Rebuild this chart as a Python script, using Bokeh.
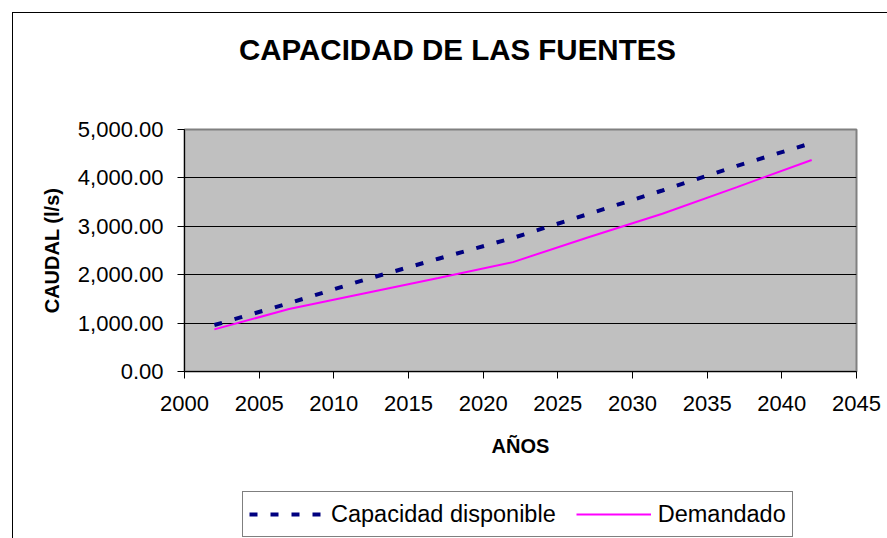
from bokeh.plotting import figure
from bokeh.layouts import column
from bokeh.models import (Legend, LegendItem, Label, InlineStyleSheet,
                          FixedTicker, NumeralTickFormatter, Range1d)
from bokeh.embed import file_html
from bokeh.resources import INLINE

# ---- data ----
years = [2002, 2007, 2012, 2017, 2022, 2027, 2032, 2037, 2042]
capacidad = [960, 1410, 1890, 2330, 2760, 3250, 3740, 4250, 4720]
demandado = [870, 1290, 1610, 1930, 2260, 2770, 3260, 3810, 4370]
x_ticks = [2000, 2005, 2010, 2015, 2020, 2025, 2030, 2035, 2040, 2045]
y_ticks = [0, 1000, 2000, 3000, 4000, 5000]
series_names = ["Capacidad disponible", "Demandado"]
title_text = "CAPACIDAD DE LAS FUENTES"
x_label = "AÑOS"
y_label = "CAUDAL (l/s)"

FONT = "Liberation Sans"
W = 887
H_TITLE, H_MAIN, H_LEG = 100, 380, 58
BLUE, PINK = "#000080", "#FF00FF"


def blank_fig(h):
    f = figure(width=W, height=h, output_backend="svg", toolbar_location=None,
               x_range=Range1d(0, 1), y_range=Range1d(0, 1),
               x_axis_type=None, y_axis_type=None,
               min_border_left=0, min_border_right=0,
               min_border_top=0, min_border_bottom=0)
    f.outline_line_color = None
    f.background_fill_color = "white"
    f.border_fill_color = "white"
    f.xgrid.grid_line_color = None
    f.ygrid.grid_line_color = None
    return f


# ---- title strip (frames of the column are aligned with the main frame at x=184) ----
t_fig = blank_fig(H_TITLE)
t_fig.add_layout(Label(x=273, y=51, x_units="screen", y_units="screen",
                       text=title_text, text_align="center",
                       text_baseline="alphabetic", text_font=FONT,
                       text_font_size="29.5px", text_font_style="bold",
                       text_color="black"))

# ---- main chart ----
p = figure(width=W, height=H_MAIN, output_backend="svg", toolbar_location=None,
           x_range=Range1d(2000, 2045), y_range=Range1d(0, 5000),
           min_border_left=184, min_border_right=31, min_border_top=29,
           min_border_bottom=109)
p.background_fill_color = "#C0C0C0"
p.border_fill_color = "white"
p.outline_line_color = "#808080"
p.outline_line_width = 2

p.line(years, capacidad, line_color=BLUE, line_width=4, line_dash="8 13")
p.line(years, demandado, line_color=PINK, line_width=2)

p.xaxis.ticker = FixedTicker(ticks=x_ticks)
p.yaxis.ticker = FixedTicker(ticks=y_ticks)
p.yaxis.formatter = NumeralTickFormatter(format="0,0.00")
for ax in (p.xaxis[0], p.yaxis[0]):
    ax.major_label_text_font = FONT
    ax.major_label_text_font_size = "22px"
    ax.major_label_text_color = "black"
    ax.axis_line_color = "black"
    ax.axis_line_width = 1
    ax.major_tick_line_color = "black"
    ax.major_tick_out = 7
    ax.major_tick_in = 0
    ax.minor_tick_line_color = None
    ax.axis_label_text_font = FONT
    ax.axis_label_text_font_size = "20px"
    ax.axis_label_text_font_style = "bold"
    ax.axis_label_text_color = "black"
p.xaxis.axis_label = x_label
p.yaxis.axis_label = y_label
p.xaxis.major_label_standoff = 17
p.yaxis.major_label_standoff = 14
p.xaxis.axis_label_standoff = 21
p.yaxis.axis_label_standoff = 12

p.xgrid.grid_line_color = None
p.ygrid.grid_line_color = "black"
p.ygrid.grid_line_width = 1

# ---- legend strip ----
l_fig = blank_fig(H_LEG)
lr1 = l_fig.line(years, capacidad, line_color=BLUE, line_width=4, line_dash="8 13")
lr2 = l_fig.line(years, demandado, line_color=PINK, line_width=2)
legend = Legend(items=[LegendItem(label=series_names[0], renderers=[lr1]),
                       LegendItem(label=series_names[1], renderers=[lr2])],
                orientation="horizontal", location=(58, 1))
legend.border_line_color = "black"
legend.border_line_width = 1
legend.background_fill_color = "white"
legend.background_fill_alpha = 1
legend.label_text_font = FONT
legend.label_text_font_size = "23.5px"
legend.label_text_color = "black"
legend.glyph_width = 75
legend.glyph_height = 20
legend.label_standoff = 7
legend.spacing = 20
legend.padding = 6
legend.margin = 0
legend.label_height = 32
l_fig.add_layout(legend)

border_css = InlineStyleSheet(css="""
:host { position: relative; }
:host::after {
  content: "";
  position: absolute;
  left: 12px; top: 12px; right: 0; bottom: 0;
  border-left: 1.5px solid #000;
  border-top: 1.5px solid #000;
  pointer-events: none;
  z-index: 100;
}
""")

layout = column(t_fig, p, l_fig, spacing=0, stylesheets=[border_css])

open("out.html", "w").write(file_html(layout, INLINE))
